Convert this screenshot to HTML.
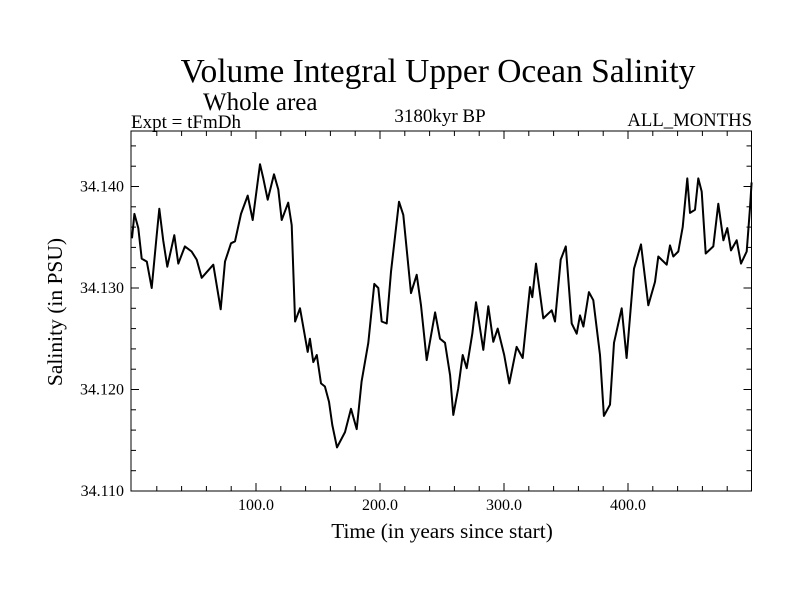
<!DOCTYPE html>
<html><head><meta charset="utf-8"><style>
body{margin:0;background:#fff;}
svg{display:block;font-family:"Liberation Serif",serif;}
</style></head><body>
<svg id="chart" width="800" height="600">
<text x="438" y="82" font-size="33.5" text-anchor="middle">Volume Integral Upper Ocean Salinity</text>
<text x="203" y="110" font-size="25">Whole area</text>
<text x="131" y="128" font-size="19">Expt = tFmDh</text>
<text x="440" y="122" font-size="19" text-anchor="middle">3180kyr BP</text>
<text x="752" y="126" font-size="18.7" text-anchor="end">ALL_MONTHS</text>
<text transform="translate(62,312) rotate(-90)" font-size="21.5" text-anchor="middle">Salinity (in PSU)</text>
<text x="442" y="538" font-size="21.3" text-anchor="middle">Time (in years since start)</text>
<g id="axes"></g>
<path id="series" fill="none" stroke="#000" stroke-width="2" stroke-linejoin="round"/>
<rect x="131" y="131" width="620.5" height="360" fill="none" stroke="#000" stroke-width="1"/>
</svg>
<script>
const years=[0,1.9,5.1,7.8,11.9,15.9,19.9,22.0,25.2,28.5,34.1,37.3,42.7,48.1,52.2,56.2,65.6,71.5,75.0,79.8,83.1,87.9,93.3,97.3,103.2,105.9,109.4,114.5,118.0,120.7,126.0,128.8,131.5,135.5,141.7,143.5,146.2,149.0,152.4,155.6,158.9,161.5,165.3,171.8,176.6,181.2,185.2,190.6,195.4,198.6,201.4,205.4,208.9,215.3,218.8,225.0,229.6,233.1,237.7,244.4,248.4,252.4,256.5,259.1,263.1,266.7,269.9,274.4,277.4,283.3,287.3,291.4,294.9,300.2,304.3,310.2,315.1,321.0,322.8,325.8,331.7,338.5,341.1,345.7,349.8,354.6,358.6,361.3,364.0,368.5,372.0,377.4,380.6,385.5,388.7,394.9,398.9,404.8,410.5,416.4,421.8,424.4,431.2,433.9,436.5,440.6,444.1,447.8,450.0,454.0,456.7,459.4,462.7,468.8,472.8,476.9,480.1,483.1,487.7,491.1,495.7,498.4,499.7];
const salinity=[34.1349,34.1373,34.1359,34.1329,34.1326,34.1300,34.1352,34.1378,34.1347,34.1321,34.1352,34.1324,34.1341,34.1336,34.1328,34.1310,34.1323,34.1279,34.1326,34.1344,34.1346,34.1373,34.1391,34.1367,34.1422,34.1408,34.1387,34.1412,34.1397,34.1367,34.1384,34.1362,34.1267,34.1280,34.1237,34.1250,34.1227,34.1234,34.1206,34.1203,34.1188,34.1165,34.1143,34.1158,34.1181,34.1161,34.1208,34.1246,34.1304,34.1300,34.1267,34.1265,34.1316,34.1385,34.1372,34.1295,34.1313,34.1283,34.1229,34.1276,34.1250,34.1246,34.1214,34.1175,34.1201,34.1234,34.1221,34.1255,34.1286,34.1239,34.1282,34.1247,34.1260,34.1234,34.1206,34.1242,34.1231,34.1301,34.1291,34.1324,34.1270,34.1278,34.1267,34.1328,34.1341,34.1265,34.1255,34.1273,34.1262,34.1296,34.1288,34.1234,34.1174,34.1185,34.1246,34.1280,34.1231,34.1319,34.1343,34.1283,34.1306,34.1331,34.1323,34.1342,34.1331,34.1336,34.1360,34.1408,34.1374,34.1377,34.1408,34.1395,34.1334,34.1341,34.1383,34.1347,34.1359,34.1337,34.1347,34.1324,34.1336,34.1379,34.1404];
const yTickLabels=["34.110","34.120","34.130","34.140"];
const xTickLabels=["100.0","200.0","300.0","400.0"];
const X=v=>132+v*1.24;
const Y=v=>491-(v-34.110)*10150;
const NS="http://www.w3.org/2000/svg";
const axes=document.getElementById('axes');
function line(x1,y1,x2,y2,name){const l=document.createElementNS(NS,'line');l.setAttribute('x1',x1);l.setAttribute('y1',y1);l.setAttribute('x2',x2);l.setAttribute('y2',y2);l.setAttribute('stroke','#000');l.setAttribute('stroke-width','1');


axes.appendChild(l);}
function text(x,y,s,anchor,name){const t=document.createElementNS(NS,'text');t.setAttribute('x',x);t.setAttribute('y',y);t.setAttribute('font-size','16');t.setAttribute('text-anchor',anchor);t.textContent=s;


axes.appendChild(t);}
for(let i=0;i<=17;i++){const v=34.110+i*0.002;const y=Y(v);const major=i%5===0;const L=major?8:5;
line(131,y,131+L,y,'y-tick');line(751.5-L,y,751.5,y,'y-tick');}
yTickLabels.forEach(s=>text(124,Y(parseFloat(s))+5,s,'end','y-tick-label'));
for(let yr=20;yr<500;yr+=20){const x=X(yr);const major=yr%100===0;const L=major?8:5;
line(x,491,x,491-L,'x-tick');line(x,131,x,131+L,'x-tick');}
xTickLabels.forEach(s=>text(X(parseFloat(s)),510,s,'middle','x-tick-label'));
document.getElementById('series').setAttribute('d',years.map((yr,i)=>(i?'L':'M')+X(yr).toFixed(1)+','+Y(salinity[i]).toFixed(1)).join(''));
</script>
</body></html>
